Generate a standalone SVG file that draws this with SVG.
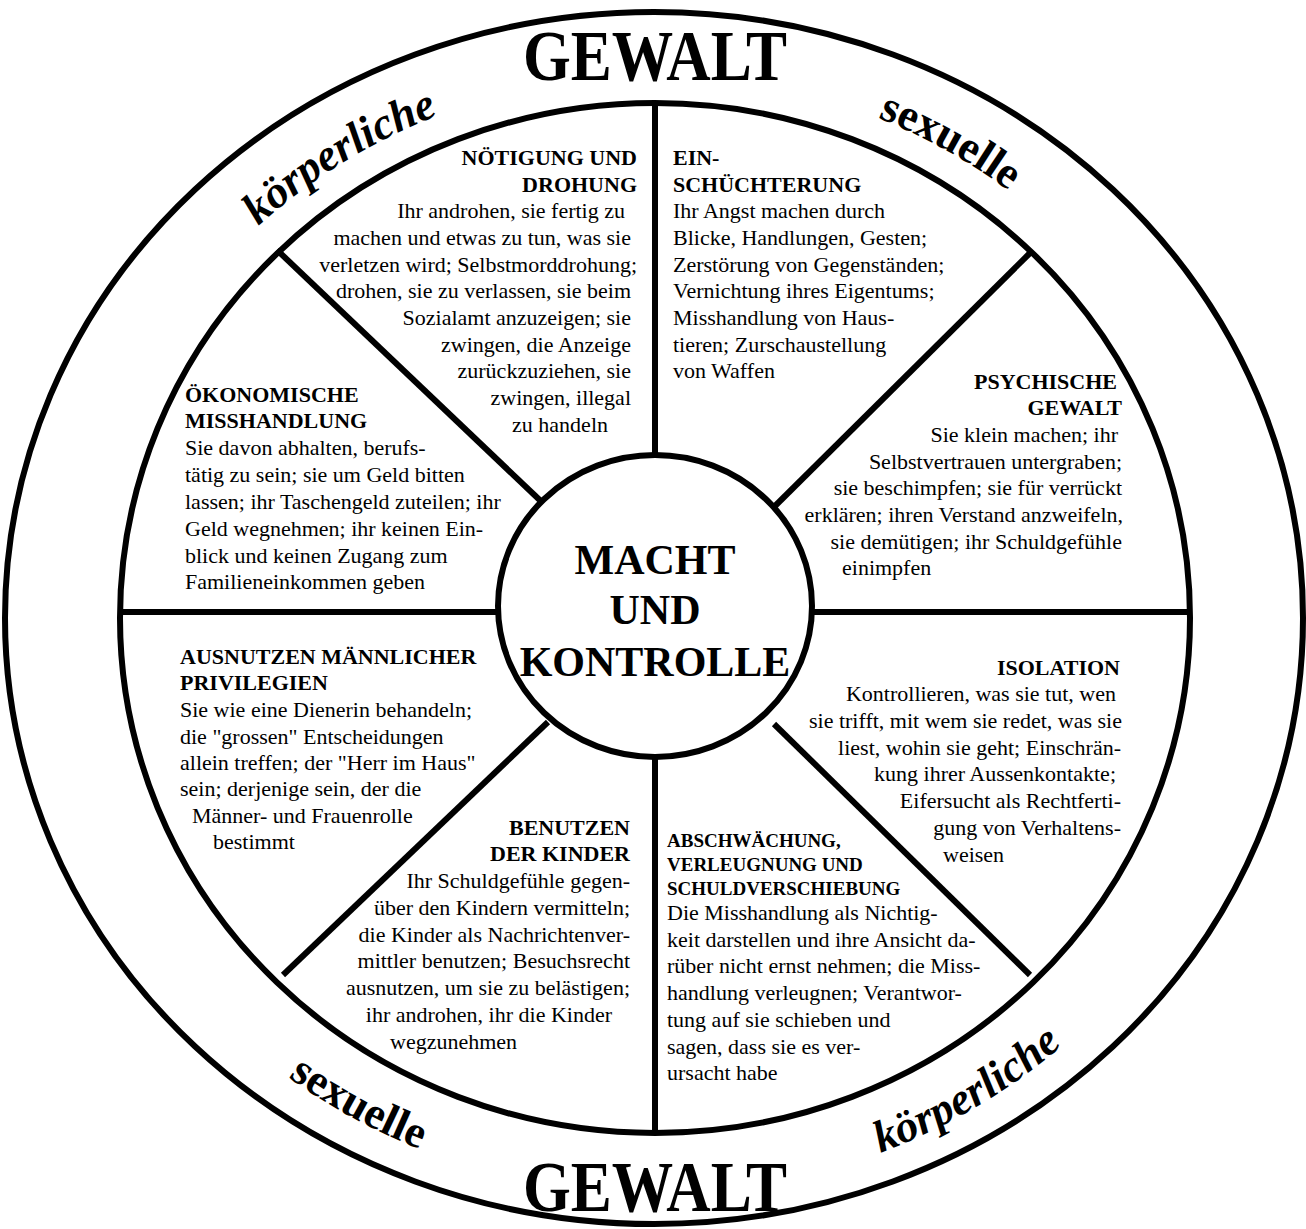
<svg xmlns="http://www.w3.org/2000/svg" width="1306" height="1229" viewBox="0 0 1306 1229">
<defs>
<style>
.ln{fill:none;stroke:#000;stroke-width:6}
.t{font-family:"Liberation Serif","Times New Roman",serif;font-size:22px;fill:#000}
.h{font-weight:bold}
.h19{font-weight:bold;font-size:19px}
.e{text-anchor:end}
.big{font-family:"Liberation Serif","Times New Roman",serif;font-weight:bold;fill:#000}
.arc{font-family:"Liberation Serif","Times New Roman",serif;font-weight:bold;font-size:45px;fill:#000}
.it{font-style:italic}
</style>
<path id="topArc" d="M 82,618 A 573,543 0 0 1 1228,618"/>
<path id="botArc" d="M 47,618 A 608,576 0 0 0 1263,618"/>
</defs>
<rect x="0" y="0" width="1306" height="1229" fill="#fff"/>

<g id="outer-ring">
<ellipse class="ln" cx="654" cy="618" rx="649" ry="606"/>
<text class="big" x="655" y="80" font-size="72" text-anchor="middle" textLength="264" lengthAdjust="spacingAndGlyphs">GEWALT</text>
<text class="big" x="655" y="1211" font-size="72" text-anchor="middle" textLength="264" lengthAdjust="spacingAndGlyphs">GEWALT</text>
<text class="arc it"><textPath href="#topArc" startOffset="31.3%" text-anchor="middle">körperliche</textPath></text>
<text class="arc" font-size="43"><textPath href="#topArc" startOffset="67.3%" text-anchor="middle">sexuelle</textPath></text>
<text class="arc" font-size="44"><textPath href="#botArc" startOffset="33%" text-anchor="middle">sexuelle</textPath></text>
<text class="arc it"><textPath href="#botArc" startOffset="68.1%" text-anchor="middle">körperliche</textPath></text>
</g>

<g id="wheel">
<ellipse class="ln" cx="655" cy="618" rx="535" ry="515"/>
</g>

<g id="connectors">
<line class="ln" x1="655" y1="104" x2="655" y2="460"/>
<line class="ln" x1="655" y1="752" x2="655" y2="1132"/>
<line class="ln" x1="121" y1="612" x2="503" y2="612"/>
<line class="ln" x1="807" y1="612" x2="1189" y2="612"/>
<line class="ln" x1="277" y1="250" x2="546" y2="506"/>
<line class="ln" x1="1030" y1="253" x2="775" y2="506"/>
<line class="ln" x1="283" y1="975" x2="548" y2="722"/>
<line class="ln" x1="1030" y1="975" x2="774" y2="724"/>
</g>

<g id="hub">
<ellipse cx="655" cy="606" rx="157" ry="151" fill="#fff" stroke="#000" stroke-width="6"/>
<text class="big" x="655" y="574" font-size="42" text-anchor="middle">MACHT</text>
<text class="big" x="655" y="624" font-size="42" text-anchor="middle">UND</text>
<text class="big" x="655" y="676" font-size="42" text-anchor="middle">KONTROLLE</text>
</g>

<g id="noetigung" class="t">
<text class="h e" x="637" y="165">NÖTIGUNG UND</text>
<text class="h e" x="637" y="192">DROHUNG</text>
<text class="e" x="625" y="218">Ihr androhen, sie fertig zu</text>
<text class="e" x="631" y="245">machen und etwas zu tun, was sie</text>
<text class="e" x="637" y="272">verletzen wird; Selbstmorddrohung;</text>
<text class="e" x="631" y="298">drohen, sie zu verlassen, sie beim</text>
<text class="e" x="631" y="325">Sozialamt anzuzeigen; sie</text>
<text class="e" x="631" y="352">zwingen, die Anzeige</text>
<text class="e" x="631" y="378">zurückzuziehen, sie</text>
<text class="e" x="631" y="405">zwingen, illegal</text>
<text class="e" x="608" y="432">zu handeln</text>
</g>

<g id="einschuechterung" class="t">
<text class="h" x="673" y="165">EIN-</text>
<text class="h" x="673" y="192">SCHÜCHTERUNG</text>
<text x="673" y="218">Ihr Angst machen durch</text>
<text x="673" y="245">Blicke, Handlungen, Gesten;</text>
<text x="673" y="272">Zerstörung von Gegenständen;</text>
<text x="673" y="298">Vernichtung ihres Eigentums;</text>
<text x="673" y="325">Misshandlung von Haus-</text>
<text x="673" y="352">tieren; Zurschaustellung</text>
<text x="673" y="378">von Waffen</text>
</g>

<g id="psychische-gewalt" class="t">
<text class="h e" x="1117" y="389">PSYCHISCHE</text>
<text class="h e" x="1122" y="415">GEWALT</text>
<text class="e" x="1118" y="442">Sie klein machen; ihr</text>
<text class="e" x="1122" y="469">Selbstvertrauen untergraben;</text>
<text class="e" x="1122" y="495">sie beschimpfen; sie für verrückt</text>
<text class="e" x="1123" y="522">erklären; ihren Verstand anzweifeln,</text>
<text class="e" x="1122" y="549">sie demütigen; ihr Schuldgefühle</text>
<text x="842" y="575">einimpfen</text>
</g>

<g id="oekonomische-misshandlung" class="t">
<text class="h" x="185" y="402">ÖKONOMISCHE</text>
<text class="h" x="185" y="428">MISSHANDLUNG</text>
<text x="185" y="455">Sie davon abhalten, berufs-</text>
<text x="185" y="482">tätig zu sein; sie um Geld bitten</text>
<text x="185" y="509">lassen; ihr Taschengeld zuteilen; ihr</text>
<text x="185" y="536">Geld wegnehmen; ihr keinen Ein-</text>
<text x="185" y="563">blick und keinen Zugang zum</text>
<text x="185" y="589">Familieneinkommen geben</text>
</g>

<g id="maennliche-privilegien" class="t">
<text class="h" x="180" y="664">AUSNUTZEN MÄNNLICHER</text>
<text class="h" x="180" y="690">PRIVILEGIEN</text>
<text x="180" y="717">Sie wie eine Dienerin behandeln;</text>
<text x="180" y="744">die "grossen" Entscheidungen</text>
<text x="180" y="770">allein treffen; der "Herr im Haus"</text>
<text x="180" y="796">sein; derjenige sein, der die</text>
<text x="192" y="823">Männer- und Frauenrolle</text>
<text x="213" y="849">bestimmt</text>
</g>

<g id="isolation" class="t">
<text class="h e" x="1120" y="675">ISOLATION</text>
<text class="e" x="1116" y="701">Kontrollieren, was sie tut, wen</text>
<text class="e" x="1122" y="728">sie trifft, mit wem sie redet, was sie</text>
<text class="e" x="1121" y="755">liest, wohin sie geht; Einschrän-</text>
<text class="e" x="1116" y="781">kung ihrer Aussenkontakte;</text>
<text class="e" x="1121" y="808">Eifersucht als Rechtferti-</text>
<text class="e" x="1121" y="835">gung von Verhaltens-</text>
<text x="943" y="862">weisen</text>
</g>

<g id="benutzen-der-kinder" class="t">
<text class="h e" x="630" y="835">BENUTZEN</text>
<text class="h e" x="630" y="861">DER KINDER</text>
<text class="e" x="630" y="888">Ihr Schuldgefühle gegen-</text>
<text class="e" x="630" y="915">über den Kindern vermitteln;</text>
<text class="e" x="630" y="942">die Kinder als Nachrichtenver-</text>
<text class="e" x="630" y="968">mittler benutzen; Besuchsrecht</text>
<text class="e" x="630" y="995">ausnutzen, um sie zu belästigen;</text>
<text class="e" x="612" y="1022">ihr androhen, ihr die Kinder</text>
<text x="390" y="1049">wegzunehmen</text>
</g>

<g id="abschwaechung" class="t">
<text class="h19" x="667" y="847">ABSCHWÄCHUNG,</text>
<text class="h19" x="667" y="871">VERLEUGNUNG UND</text>
<text class="h19" x="667" y="895">SCHULDVERSCHIEBUNG</text>
<text x="667" y="920">Die Misshandlung als Nichtig-</text>
<text x="667" y="947">keit darstellen und ihre Ansicht da-</text>
<text x="667" y="973">rüber nicht ernst nehmen; die Miss-</text>
<text x="667" y="1000">handlung verleugnen; Verantwor-</text>
<text x="667" y="1027">tung auf sie schieben und</text>
<text x="667" y="1054">sagen, dass sie es ver-</text>
<text x="667" y="1080">ursacht habe</text>
</g>
</svg>
